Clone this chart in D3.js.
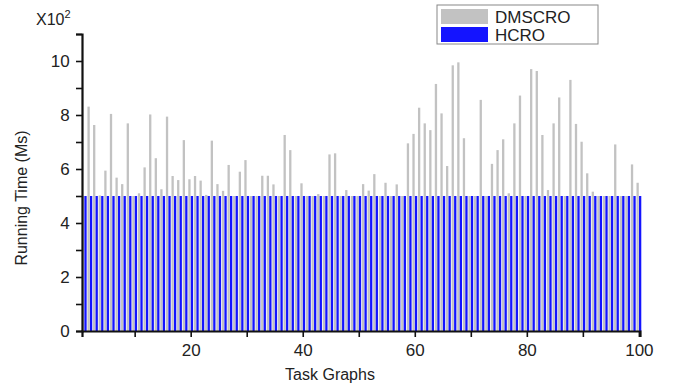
<!DOCTYPE html>
<html>
<head>
<meta charset="utf-8">
<script src="https://cdn.jsdelivr.net/npm/d3@7"></script>
<style>
  body { margin: 0; background: #fff; }
  text { font-family: "Liberation Sans", Arial, sans-serif; fill: #222; }
</style>
</head>
<body>
<div id="chart"></div>
<script>
// task graph ids
const taskIds = [
  1,2,3,4,5,6,7,8,9,10,11,12,13,14,15,16,17,18,19,20,
  21,22,23,24,25,26,27,28,29,30,31,32,33,34,35,36,37,38,39,40,
  41,42,43,44,45,46,47,48,49,50,51,52,53,54,55,56,57,58,59,60,
  61,62,63,64,65,66,67,68,69,70,71,72,73,74,75,76,77,78,79,80,
  81,82,83,84,85,86,87,88,89,90,91,92,93,94,95,96,97,98,99,100
];

// running time, x10^2 ms
const dmscro = [
  5.00,8.31,7.63,5.02,5.94,8.04,5.68,5.44,7.69,5.00,
  5.10,6.06,8.02,6.40,5.25,7.94,5.74,5.59,7.07,5.62,
  5.74,5.57,5.04,7.05,5.44,5.19,6.15,5.00,5.90,6.33,
  5.00,5.00,5.75,5.75,5.43,5.00,7.26,6.70,5.00,5.47,
  5.00,5.00,5.07,5.00,6.54,6.58,5.00,5.22,5.00,5.00,
  5.44,5.20,5.81,5.00,5.49,5.00,5.43,5.00,6.95,7.30,
  8.27,7.69,7.44,9.15,8.06,6.11,9.84,9.95,7.14,5.00,
  5.00,8.56,5.00,6.19,6.70,7.10,5.10,7.69,8.72,5.00,
  9.70,9.63,7.26,5.22,7.69,8.65,5.00,9.30,7.67,7.01,
  5.84,5.16,5.00,5.00,5.00,6.91,5.00,5.00,6.17,5.49
];
const hcro = [
  5,5,5,5,5,5,5,5,5,5, 5,5,5,5,5,5,5,5,5,5,
  5,5,5,5,5,5,5,5,5,5, 5,5,5,5,5,5,5,5,5,5,
  5,5,5,5,5,5,5,5,5,5, 5,5,5,5,5,5,5,5,5,5,
  5,5,5,5,5,5,5,5,5,5, 5,5,5,5,5,5,5,5,5,5,
  5,5,5,5,5,5,5,5,5,5, 5,5,5,5,5,5,5,5,5,5
];

const seriesNames = ['DMSCRO', 'HCRO'];
const seriesColors = ['#c2c2c2', '#1414ff'];
const xTickLabels = [20, 40, 60, 80, 100];
const yTickLabels = [0, 2, 4, 6, 8, 10];

const width = 674, height = 386;
const margins = {top: 34, right: 34, bottom: 55, left: 82};

const svg = d3.select('#chart').append('svg')
  .attr('width', width)
  .attr('height', height);

const xScale = d3.scaleLinear().domain([0.6, 100.2]).range([margins.left, width - margins.right]);
const yScale = d3.scaleLinear().domain([0, 11]).range([height - margins.bottom, margins.top]);
const subScale = d3.scaleBand().domain(seriesNames).range([-2.4, 2.4]).paddingInner(0.08);

// bars
const rows = taskIds.map((t, i) => ({t: t, vals: [dmscro[i], hcro[i]]}));
seriesNames.forEach((name, k) => {
  svg.append('g')
    .selectAll('rect')
    .data(rows)
    .enter()
    .append('rect')
    .attr('x', d => xScale(d.t) + subScale(name))
    .attr('width', subScale.bandwidth())
    .attr('y', d => yScale(d.vals[k]))
    .attr('height', d => yScale(0) - yScale(d.vals[k]))
    .style('fill', seriesColors[k]);
});

// axes
const xAxis = d3.axisBottom(xScale)
  .tickValues(d3.range(10, 101, 10))
  .tickSize(6)
  .tickFormat(d => xTickLabels.includes(d) ? d : '');
const yAxis = d3.axisLeft(yScale)
  .tickValues(d3.range(0, 12, 1))
  .tickSize(6)
  .tickFormat(d => yTickLabels.includes(d) ? d : '');

const axiX = svg.append('g')
  .attr('transform', 'translate(0,' + yScale(0) + ')')
  .call(xAxis);
const axiY = svg.append('g')
  .attr('transform', 'translate(' + margins.left + ',0)')
  .call(yAxis);

[axiX, axiY].forEach(a => {
  a.select('.domain').attr('stroke', '#111').attr('stroke-width', 2.2);
  a.selectAll('.tick line').attr('stroke', '#111').attr('stroke-width', 1.6);
  a.selectAll('.tick text').style('font-size', '17px').style('fill', '#222');
});
axiX.selectAll('.tick text').attr('dy', '0.95em');
axiY.selectAll('.tick text').attr('dx', '-0.2em');

// axis titles
svg.append('text')
  .attr('x', 330).attr('y', 380)
  .attr('text-anchor', 'middle')
  .style('font-size', '16px')
  .text('Task Graphs');

svg.append('text')
  .attr('transform', 'translate(27,' + 198 + ') rotate(-90)')
  .attr('text-anchor', 'middle')
  .style('font-size', '16px')
  .text('Running Time (Ms)');

// scale factor
const mult = svg.append('text')
  .attr('x', 36).attr('y', 25)
  .style('font-size', '16px');
mult.append('tspan').text('X10');
mult.append('tspan').attr('dy', -7).style('font-size', '11px').text('2');

// legend
const leg = svg.append('g').attr('transform', 'translate(437,5)');
leg.append('rect')
  .attr('width', 161).attr('height', 39)
  .style('fill', '#fff').style('stroke', '#888').style('stroke-width', 1);
seriesNames.forEach((name, k) => {
  leg.append('rect')
    .attr('x', 4).attr('y', 4 + k * 18)
    .attr('width', 47).attr('height', 15)
    .style('fill', seriesColors[k]);
  leg.append('text')
    .attr('x', 58).attr('y', 18 + k * 18)
    .style('font-size', '17px')
    .text(name);
});
</script>
</body>
</html>
